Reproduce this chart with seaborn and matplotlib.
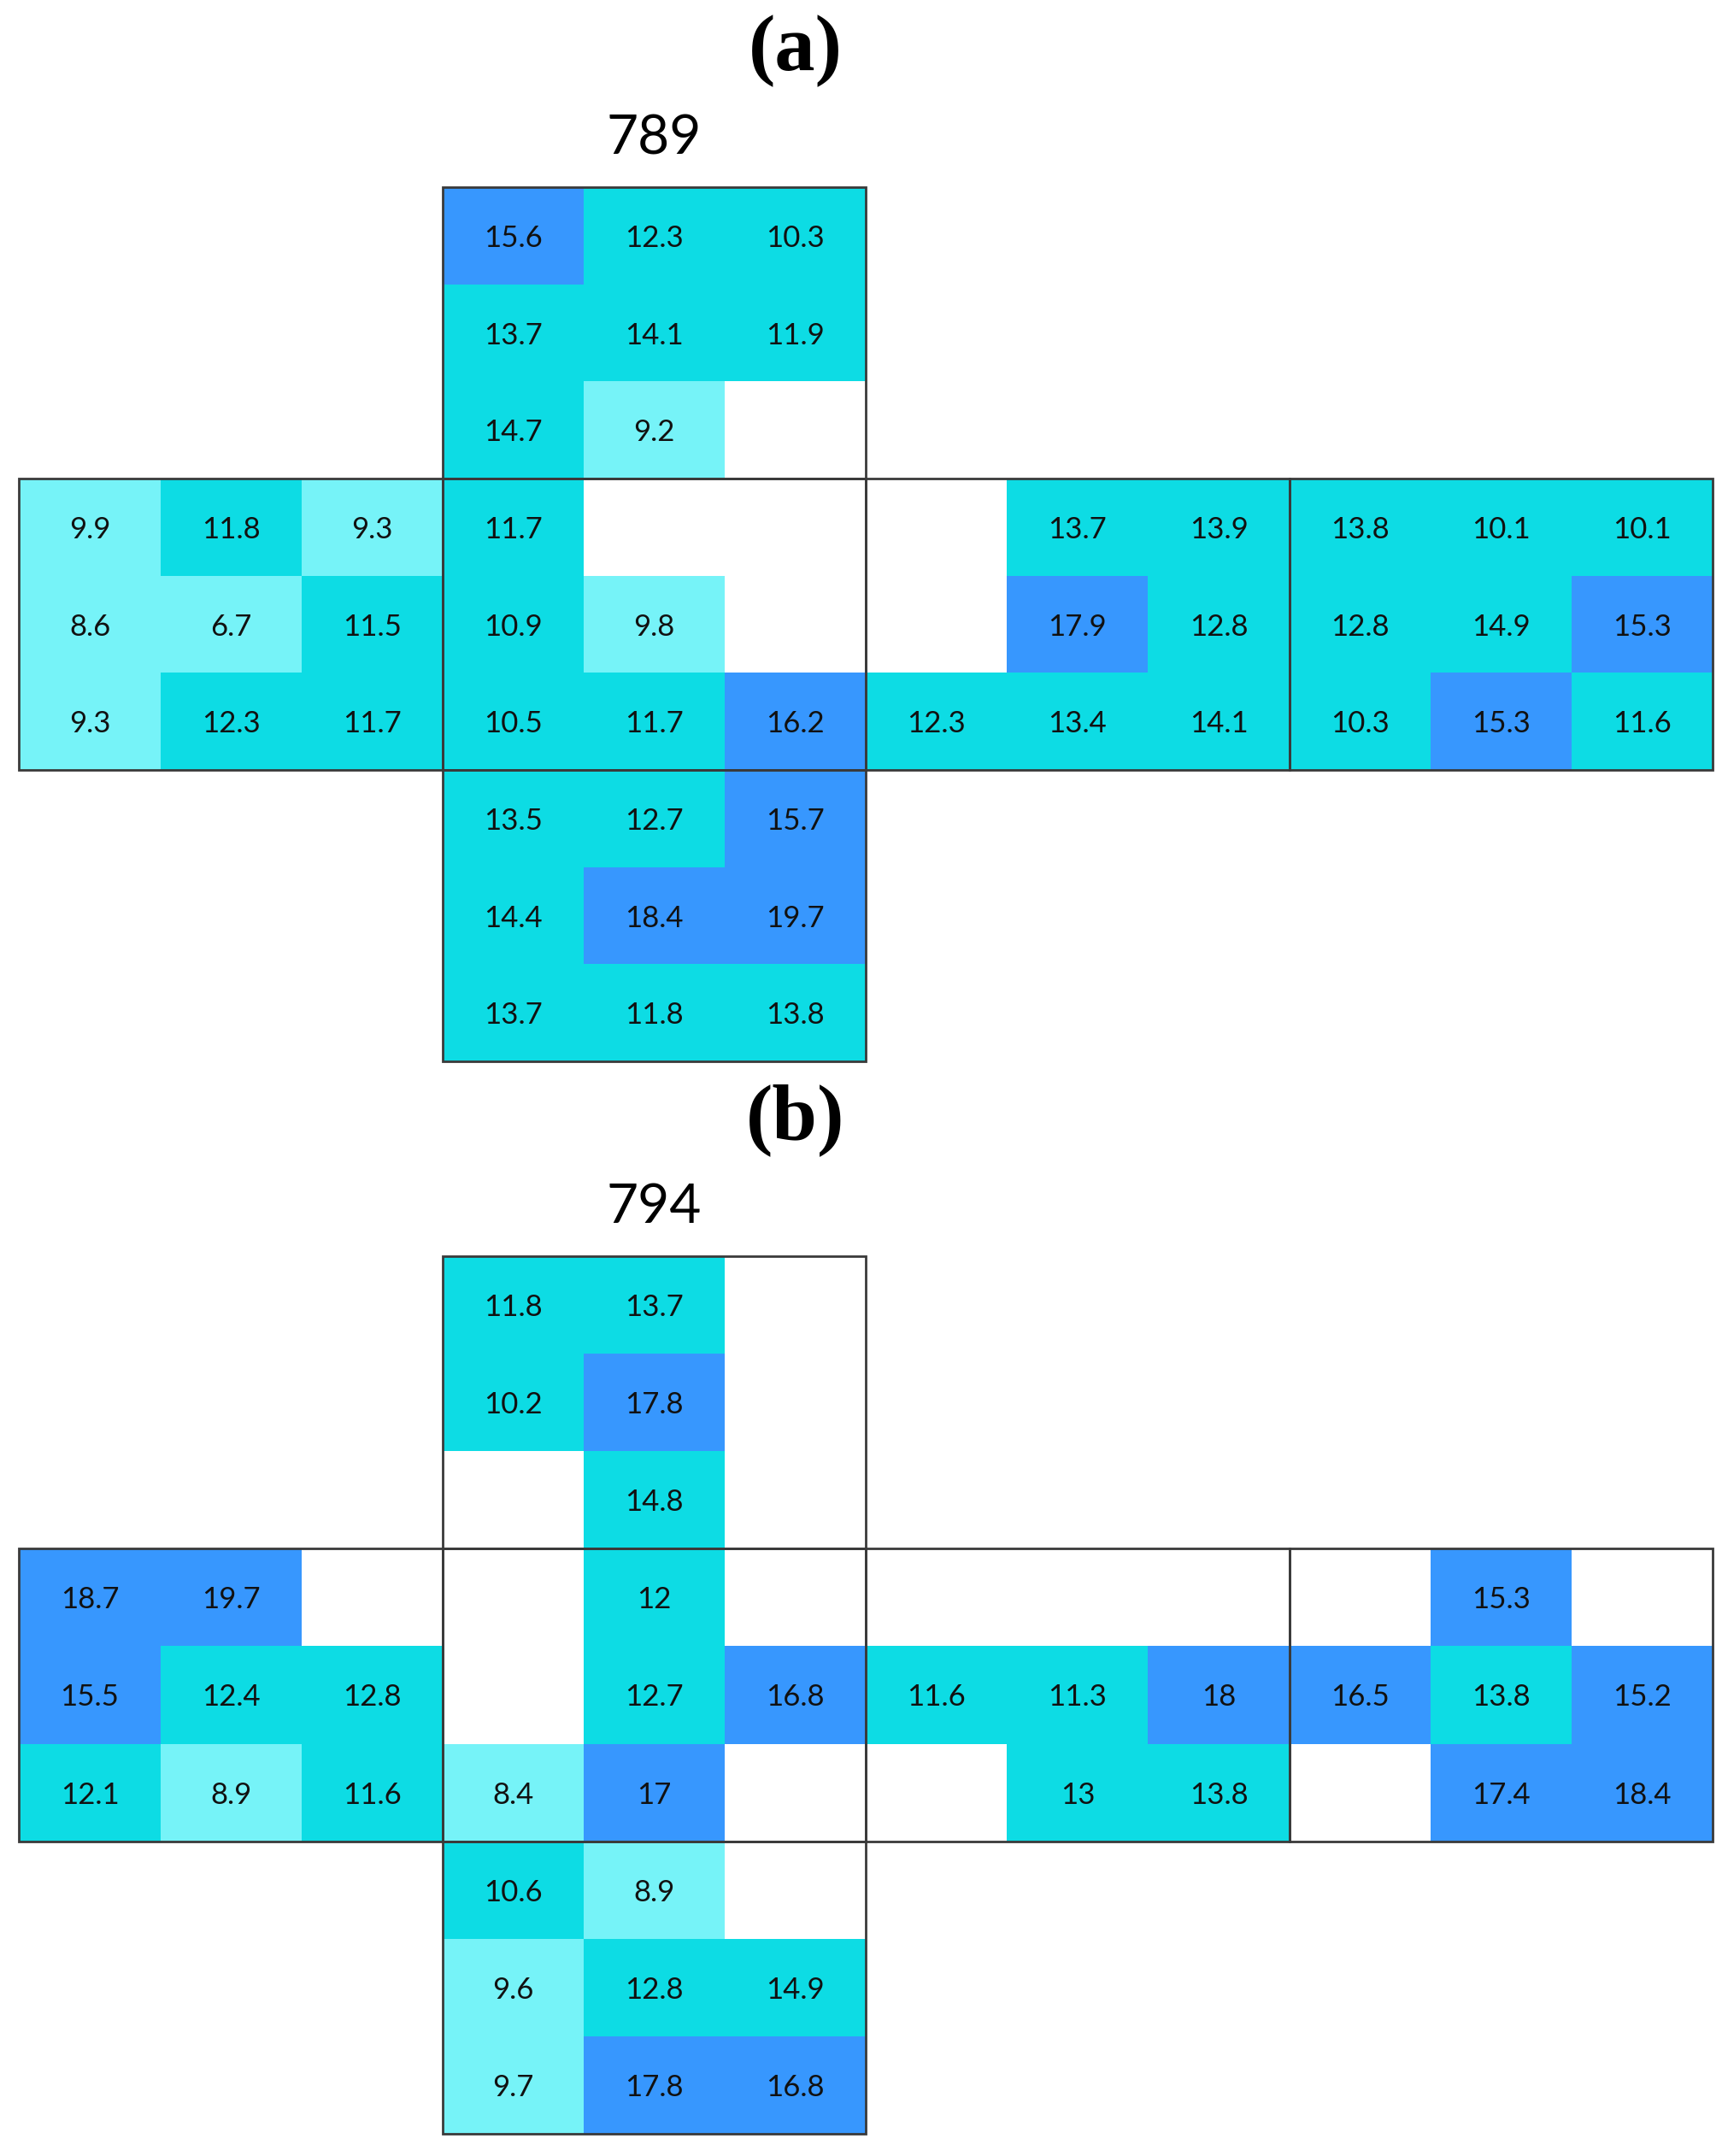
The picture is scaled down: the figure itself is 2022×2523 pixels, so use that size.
import numpy as np
import pandas as pd
import seaborn as sns
import matplotlib.pyplot as plt
from matplotlib.colors import ListedColormap, BoundaryNorm
from matplotlib.patches import Rectangle

nan = np.nan

# cube net, 9 rows x 12 columns; nan = no cell drawn
net_789 = [
    [nan, nan, nan, 15.6, 12.3, 10.3, nan, nan, nan, nan, nan, nan],
    [nan, nan, nan, 13.7, 14.1, 11.9, nan, nan, nan, nan, nan, nan],
    [nan, nan, nan, 14.7, 9.2, nan, nan, nan, nan, nan, nan, nan],
    [9.9, 11.8, 9.3, 11.7, nan, nan, nan, 13.7, 13.9, 13.8, 10.1, 10.1],
    [8.6, 6.7, 11.5, 10.9, 9.8, nan, nan, 17.9, 12.8, 12.8, 14.9, 15.3],
    [9.3, 12.3, 11.7, 10.5, 11.7, 16.2, 12.3, 13.4, 14.1, 10.3, 15.3, 11.6],
    [nan, nan, nan, 13.5, 12.7, 15.7, nan, nan, nan, nan, nan, nan],
    [nan, nan, nan, 14.4, 18.4, 19.7, nan, nan, nan, nan, nan, nan],
    [nan, nan, nan, 13.7, 11.8, 13.8, nan, nan, nan, nan, nan, nan],
]

net_794 = [
    [nan, nan, nan, 11.8, 13.7, nan, nan, nan, nan, nan, nan, nan],
    [nan, nan, nan, 10.2, 17.8, nan, nan, nan, nan, nan, nan, nan],
    [nan, nan, nan, nan, 14.8, nan, nan, nan, nan, nan, nan, nan],
    [18.7, 19.7, nan, nan, 12, nan, nan, nan, nan, nan, 15.3, nan],
    [15.5, 12.4, 12.8, nan, 12.7, 16.8, 11.6, 11.3, 18, 16.5, 13.8, 15.2],
    [12.1, 8.9, 11.6, 8.4, 17, nan, nan, 13, 13.8, nan, 17.4, 18.4],
    [nan, nan, nan, 10.6, 8.9, nan, nan, nan, nan, nan, nan, nan],
    [nan, nan, nan, 9.6, 12.8, 14.9, nan, nan, nan, nan, nan, nan],
    [nan, nan, nan, 9.7, 17.8, 16.8, nan, nan, nan, nan, nan, nan],
]

panel_labels = ['(a)', '(b)']
panel_titles = ['789', '794']

# faces of the net as (first column, first row)
faces = [(3, 0), (0, 3), (3, 3), (6, 3), (9, 3), (3, 6)]

class_bounds = [0, 10, 15, 30]
class_colors = ['#76F3F8', '#0DDCE4', '#3797FE']

sns.set_style('white')
plt.rcParams['font.family'] = ['Lato', 'DejaVu Sans']

cmap = ListedColormap(class_colors)
norm = BoundaryNorm(class_bounds, cmap.N)

fig = plt.figure(figsize=(20.22, 25.23), dpi=100)
ax_a = fig.add_axes([0.0111, 0.5077, 0.9800, 0.4055])
ax_b = fig.add_axes([0.0111, 0.0103, 0.9800, 0.4071])

for ax, grid, label, title in zip([ax_a, ax_b], [net_789, net_794], panel_labels, panel_titles):
    df = pd.DataFrame(grid)
    sns.heatmap(df, ax=ax, cmap=cmap, norm=norm, annot=True, fmt='g', cbar=False,
                xticklabels=False, yticklabels=False, linewidths=0,
                annot_kws={'fontsize': 25, 'color': '#111111', 'va': 'center_baseline'})
    for cx, cy in faces:
        ax.add_patch(Rectangle((cx, cy), 3, 3, fill=False, edgecolor='#3a3a3a',
                               linewidth=2, clip_on=False, zorder=5))
    for s in ax.spines.values():
        s.set_visible(False)
    ax.text(4.5, -0.5, title, ha='center', va='center', fontsize=46, color='black')
    ax.text(5.5, -1.4, label, ha='center', va='center', fontsize=68, fontweight='bold',
            color='black', family=['Liberation Serif', 'DejaVu Serif'])

fig.savefig('out.png', dpi=100)
